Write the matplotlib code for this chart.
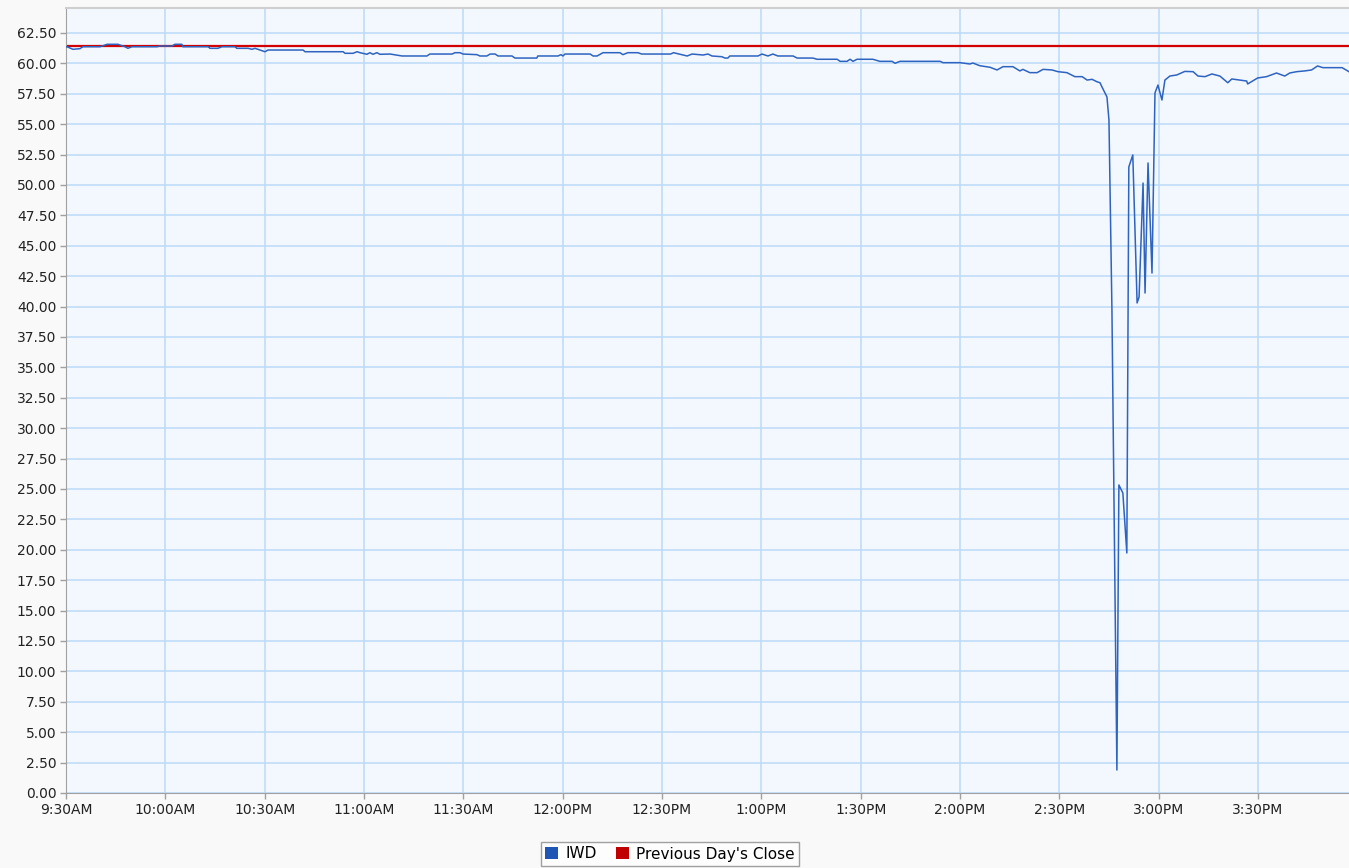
"""IWD intraday price, flash-crash session, against the previous day's close."""

import matplotlib
matplotlib.use("Agg")
import matplotlib.pyplot as plt
from matplotlib.patches import Patch
import numpy as np

# minutes after the 9:30AM open
minutes = [
    0.0, 0.3, 2.1, 4.2, 5.1, 10.3, 12.4, 15.7, 17.8, 18.7, 19.9, 27.5, 28.4,
    32.0, 32.9, 35.0, 35.3, 42.9, 43.5, 45.9, 47.1, 51.0, 51.6, 55.0, 56.2,
    57.1, 58.6, 60.1, 61.0, 71.6, 72.2, 83.7, 84.3, 86.7, 87.9, 88.8, 90.9,
    91.8, 92.7, 93.9, 94.8, 97.9, 101.5, 109.0, 109.9, 116.6, 117.5, 119.0,
    119.9, 124.1, 125.0, 127.1, 128.1, 129.6, 130.5, 134.7, 135.6, 142.2,
    142.5, 148.6, 149.5, 150.1, 150.7, 158.3, 159.2, 160.4, 162.2, 167.3,
    168.2, 169.7, 172.7, 173.9, 182.6, 183.5, 187.6, 189.1, 192.4, 193.9,
    195.1, 198.1, 199.0, 199.9, 200.5, 209.0, 210.2, 212.0, 213.5, 215.0,
    219.6, 220.8, 225.6, 226.8, 232.9, 233.8, 235.9, 236.8, 237.7, 238.9,
    243.7, 245.8, 249.5, 250.4, 251.9, 264.0, 264.9, 270.0, 273.0, 273.9,
    276.0, 279.1, 281.2, 283.0, 286.0, 288.1, 289.0, 291.1, 293.3, 295.1,
    297.8, 299.6, 302.3, 304.7, 306.9, 308.4, 309.9, 311.4, 312.3, 312.9,
    314.4, 315.0, 315.9, 317.4, 318.0, 319.2, 320.4, 321.0, 322.2, 323.5,
    324.1, 325.3, 325.9, 326.8, 328.0, 328.9, 329.8, 331.0, 331.9, 333.4,
    335.5, 337.9, 340.4, 341.9, 344.0, 346.1, 348.5, 350.9, 352.1, 356.6,
    356.9, 359.9, 362.6, 365.6, 368.1, 369.6, 371.7, 374.1, 376.2, 378.0,
    379.6, 385.4, 387.5,
]
iwd = [
    61.37, 61.37, 61.16, 61.21, 61.37, 61.37, 61.57, 61.57, 61.37, 61.24,
    61.37, 61.37, 61.43, 61.43, 61.57, 61.57, 61.37, 61.37, 61.24, 61.24,
    61.37, 61.37, 61.24, 61.24, 61.16, 61.24, 61.10, 60.96, 61.10, 61.10,
    60.96, 60.96, 60.83, 60.83, 60.96, 60.88, 60.75, 60.88, 60.75, 60.88,
    60.75, 60.77, 60.61, 60.61, 60.77, 60.77, 60.88, 60.88, 60.77, 60.72,
    60.61, 60.61, 60.77, 60.77, 60.61, 60.61, 60.44, 60.44, 60.61, 60.61,
    60.72, 60.61, 60.77, 60.77, 60.61, 60.61, 60.88, 60.88, 60.72, 60.88,
    60.88, 60.77, 60.77, 60.88, 60.61, 60.77, 60.69, 60.77, 60.61, 60.55,
    60.44, 60.44, 60.61, 60.61, 60.77, 60.61, 60.77, 60.61, 60.61, 60.44,
    60.44, 60.34, 60.34, 60.17, 60.17, 60.34, 60.17, 60.34, 60.34, 60.17,
    60.17, 60.01, 60.17, 60.17, 60.06, 60.06, 59.95, 60.03, 59.81, 59.68,
    59.46, 59.73, 59.73, 59.38, 59.51, 59.24, 59.24, 59.51, 59.46, 59.32,
    59.24, 58.91, 58.91, 58.63, 58.69, 58.49, 58.41, 58.06, 57.24, 55.35,
    39.72, 1.89, 25.33, 24.67, 19.74, 51.48, 52.47, 40.30, 40.79, 50.16,
    41.12, 51.81, 42.76, 57.57, 58.22, 56.99, 58.63, 58.96, 59.05, 59.34,
    59.32, 58.96, 58.91, 59.13, 58.96, 58.41, 58.72, 58.55, 58.31, 58.80,
    58.91, 59.21, 58.96, 59.21, 59.32, 59.38, 59.46, 59.79, 59.65, 59.65,
    59.32,
]
prev_close = 61.45

tick_minutes = list(range(0, 361, 30))
tick_labels = ["9:30AM", "10:00AM", "10:30AM", "11:00AM", "11:30AM", "12:00PM",
               "12:30PM", "1:00PM", "1:30PM", "2:00PM", "2:30PM", "3:00PM", "3:30PM"]

blue = "#2e63c0"
red = "#d40000"
grid = "#bcdaf8"

fig = plt.figure(figsize=(13.49, 8.68), dpi=100, facecolor="#f9f9f9")
ax = fig.add_axes([66 / 1349, 75 / 868, 1 - 66 / 1349, (793 - 8) / 868])
ax.set_facecolor("#f3f8ff")

ax.axhline(prev_close, color=red, linewidth=1.6, zorder=2)
ax.plot(minutes, iwd, color=blue, linewidth=1.1, zorder=3)

ax.set_xlim(0, 387.5)
ax.set_ylim(0, (793 - 8) / 12.16)
ax.set_xticks(tick_minutes)
ax.set_xticklabels(tick_labels)
ax.set_yticks(np.arange(0, 62.51, 2.5))
ax.set_yticklabels([f"{v:.2f}" for v in np.arange(0, 62.51, 2.5)])
ax.grid(True, color=grid, linewidth=1.1, zorder=0)
ax.set_axisbelow(True)

ax.spines["right"].set_visible(False)
ax.spines["top"].set_color("#cfcfcf")
ax.spines["top"].set_linewidth(1.5)
ax.spines["left"].set_color("#a0a0a0")
ax.spines["bottom"].set_color("#a0a0a0")
ax.tick_params(axis="both", colors="#a0a0a0", labelcolor="#222222",
               labelsize=10, length=4, width=1)
ax.tick_params(axis="y", pad=3)

handles = [Patch(facecolor="#1f55b5", edgecolor="none", label="IWD"),
           Patch(facecolor="#c00000", edgecolor="none", label="Previous Day's Close")]
leg = fig.legend(handles=handles, loc="center", bbox_to_anchor=(670 / 1349, 1 - 854 / 868),
                 ncol=2, frameon=True, fontsize=11, handlelength=0.85, handleheight=0.85,
                 handletextpad=0.45, columnspacing=1.3, borderpad=0.3, fancybox=False)
leg.get_frame().set_edgecolor("#8a8a8a")
leg.get_frame().set_facecolor("white")
leg.get_frame().set_linewidth(1.0)

fig.savefig("out.png", dpi=100, facecolor=fig.get_facecolor())
